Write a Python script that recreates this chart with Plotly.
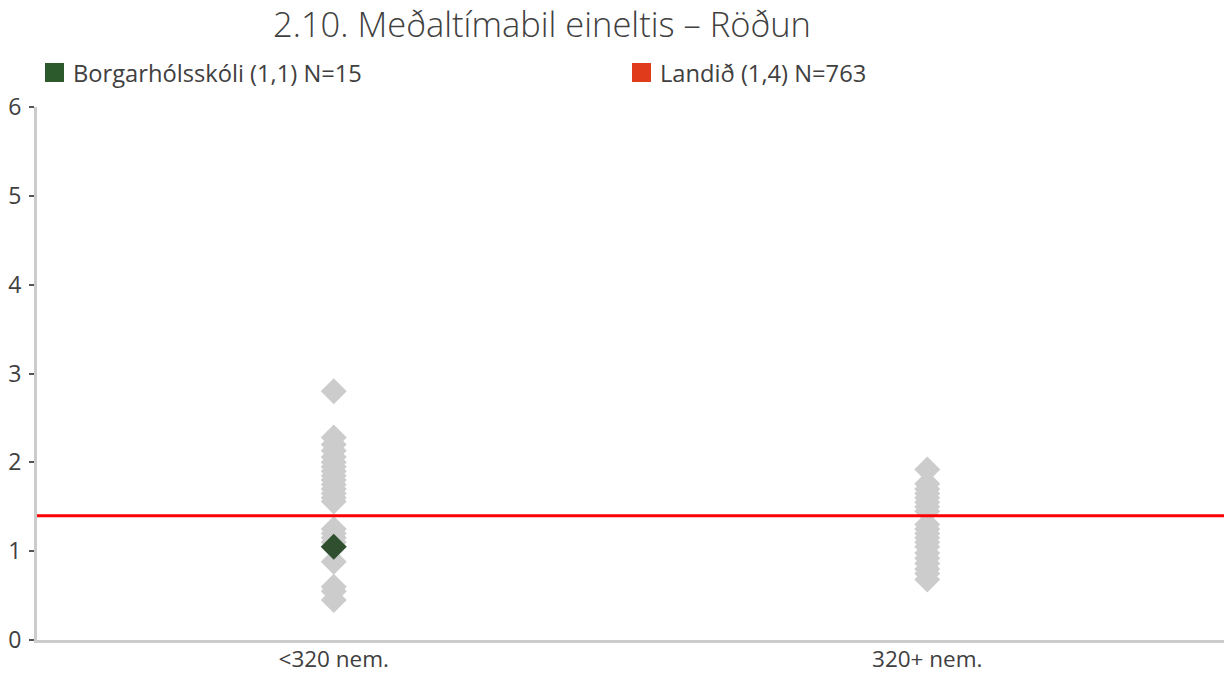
import plotly.graph_objects as go

categories = ["<320 nem.", "320+ nem."]
small_school_values = [2.8, 2.28, 2.2, 2.13, 2.06, 2.0, 1.95, 1.9, 1.85, 1.8, 1.75, 1.7, 1.65, 1.6, 1.56,
                       1.25, 1.2, 1.15, 1.1, 1.05, 0.88, 0.6, 0.55, 0.45]
large_school_values = [1.92, 1.76, 1.7, 1.65, 1.6, 1.55, 1.5, 1.45, 1.3, 1.25, 1.2, 1.15, 1.1, 1.05,
                       0.98, 0.92, 0.86, 0.8, 0.75, 0.68]
school_name = "Borgarhólsskóli (1,1) N=15"
school_category = "<320 nem."
school_value = 1.05
national_name = "Landið (1,4) N=763"
national_value = 1.4
title_text = "2.10. Meðaltímabil eineltis – Röðun"

FONT = "Open Sans"
TXT = "#404040"
W, H = 1231, 673
L, R, T, B = 37, 7, 107, 33
PW, PH = W - L - R, H - T - B


def px_x(px):
    return (px - L) / PW


def px_y(py):
    return (H - B - py) / PH


fig = go.Figure()
fig.add_trace(go.Scatter(x=[categories[0]] * len(small_school_values), y=small_school_values,
                         mode="markers", showlegend=False, hoverinfo="y",
                         marker=dict(symbol="diamond", size=20, color="#cccccc")))
fig.add_trace(go.Scatter(x=[categories[1]] * len(large_school_values), y=large_school_values,
                         mode="markers", showlegend=False, hoverinfo="y",
                         marker=dict(symbol="diamond", size=20, color="#cccccc")))
fig.add_trace(go.Scatter(x=[school_category], y=[school_value], mode="markers", showlegend=False,
                         hoverinfo="y", marker=dict(symbol="diamond", size=20, color="#2f4f2f")))

fig.add_shape(type="line", xref="paper", x0=0, x1=1, yref="y", y0=national_value, y1=national_value,
              line=dict(color="#ff0000", width=3), layer="above")

# manual legend (squares + labels)
legend_items = [(school_name, "#2d5a2d", 45), (national_name, "#e03c1c", 632)]
for name, color, left in legend_items:
    fig.add_shape(type="rect", xref="paper", yref="paper",
                  x0=px_x(left), x1=px_x(left + 19), y0=px_y(82), y1=px_y(63),
                  fillcolor=color, line=dict(width=0))
    fig.add_annotation(text=name, xref="paper", yref="paper", x=px_x(left + 26), y=px_y(72.5),
                       xanchor="left", yanchor="middle", showarrow=False,
                       font=dict(family=FONT, size=23.7, color=TXT))

fig.update_layout(
    width=W, height=H,
    margin=dict(l=L, r=R, t=T, b=B, autoexpand=False),
    paper_bgcolor="white", plot_bgcolor="white",
    showlegend=False,
    font=dict(family=FONT, size=23, color=TXT),
    title=dict(text=title_text, xref="container", x=542 / W, xanchor="center",
               yref="container", y=1 - 25 / H, yanchor="middle",
               font=dict(family=FONT, size=34.5, color=TXT, weight=300)),
    xaxis=dict(type="category", categoryorder="array", categoryarray=categories,
               range=[-0.5, 1.5], showgrid=False, zeroline=False, automargin=False,
               showline=True, linecolor="#cccccc", linewidth=3, ticks="",
               ticklabelstandoff=-3,
               tickfont=dict(size=22.5, color=TXT)),
    yaxis=dict(range=[0, 6], dtick=1, showgrid=False, zeroline=False, automargin=False,
               showline=True, linecolor="#cccccc", linewidth=3,
               ticks="outside", ticklen=5, tickcolor="#555555", tickwidth=1.5,
               ticklabelstandoff=3,
               tickfont=dict(size=23, color=TXT)),
)

fig.write_html("out.html", config={"displayModeBar": False},
               post_script="document.body.style.margin='0';document.body.style.overflow='hidden';")
